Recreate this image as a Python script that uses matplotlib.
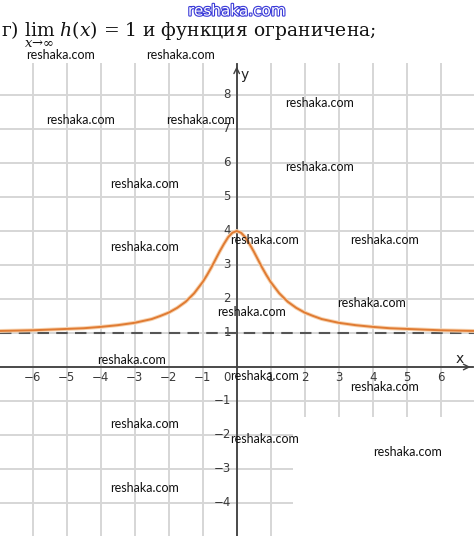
import matplotlib
matplotlib.use("Agg")
import matplotlib.pyplot as plt
from matplotlib.patches import Rectangle
import matplotlib.patheffects as pe

# ---- data ----
curve_x = [-7.0, -6.5, -6.0, -5.5, -5.0, -4.5, -4.0, -3.5, -3.0, -2.5, -2.25, -2.0,
           -1.75, -1.5, -1.25, -1.0, -0.875, -0.75, -0.625, -0.5, -0.375, -0.25, -0.125, 0.0,
           0.125, 0.25, 0.375, 0.5, 0.625, 0.75, 0.875, 1.0, 1.25, 1.5, 1.75,
           2.0, 2.25, 2.5, 3.0, 3.5, 4.0, 4.5, 5.0, 5.5, 6.0, 6.5, 7.0]
curve_y = [1.06, 1.07, 1.08, 1.10, 1.12, 1.14, 1.18, 1.23, 1.30, 1.41, 1.50, 1.60,
           1.74, 1.92, 2.17, 2.50, 2.70, 2.92, 3.16, 3.40, 3.62, 3.82, 3.95, 4.00,
           3.95, 3.82, 3.62, 3.40, 3.16, 2.92, 2.70, 2.50, 2.17, 1.92, 1.74,
           1.60, 1.50, 1.41, 1.30, 1.23, 1.18, 1.14, 1.12, 1.10, 1.08, 1.07, 1.06]
asymptote_y = 1
x_ticks = [-6, -5, -4, -3, -2, -1, 1, 2, 3, 4, 5, 6]
y_ticks = [-4, -3, -2, -1, 1, 2, 3, 4, 5, 6, 7, 8]
title_text = r"г) $\lim_{x\to\infty}\ h(x)\ =\ 1$ и функция ограничена;"
watermark = "reshaka.com"
# watermark positions in pixels (center x, center y)
wm_px = [(61, 55), (181, 55), (81, 120), (201, 120), (145, 184), (145, 247),
         (320, 103), (320, 167), (265, 240), (385, 240), (372, 303), (252, 312),
         (132, 360), (265, 376), (385, 387), (145, 424), (265, 439), (408, 452),
         (145, 488)]

W, H = 474, 536
plt.rcParams['mathtext.fontset'] = 'dejavuserif'
fig = plt.figure(figsize=(W / 100, H / 100), dpi=100)
top_pix = 63
ax = fig.add_axes([0, 0, 1, (H - top_pix) / H])
x0p, y0p, unit = 236.7, 367, 34.0
ax.set_xlim(-x0p / unit, (W - x0p) / unit)
ax.set_ylim(-(H - y0p) / unit, (y0p - top_pix) / unit)
for s in ax.spines.values():
    s.set_visible(False)
ax.set_xticks([])
ax.set_yticks([])

gcol = '#d6d6d6'
for xv in range(-7, 8):
    ax.axvline(xv, color=gcol, lw=1.4, zorder=1)
for yv in range(-5, 10):
    ax.axhline(yv, color=gcol, lw=1.4, zorder=1)
# erased region of the grid (lower right)
ax.add_patch(Rectangle((1.66, -6), 10, 6 - 1.47, facecolor='white', edgecolor='none', zorder=2))

# axes with arrows
xl = ax.get_xlim(); yl = ax.get_ylim()
ax.plot([xl[0], xl[1] - 0.02], [0, 0], color='#404040', lw=1.3, zorder=3)
ax.plot([0, 0], [yl[0], yl[1] - 0.02], color='#404040', lw=1.3, zorder=3)
ax.annotate('', xy=(xl[1] - 0.02, 0), xytext=(xl[1] - 0.3, 0),
            arrowprops=dict(arrowstyle='->', color='#404040', lw=1.0, mutation_scale=10), zorder=3)
ax.annotate('', xy=(0, yl[1] - 0.02), xytext=(0, yl[1] - 0.3),
            arrowprops=dict(arrowstyle='->', color='#404040', lw=1.0, mutation_scale=10), zorder=3)

tcol = '#3a3a3a'
for t in x_ticks:
    ax.text(t, -0.32, str(t).replace('-', '\u2212'), ha='center', va='center',
            fontsize=8.5, color=tcol, zorder=4)
ax.text(-0.28, -0.32, '0', ha='center', va='center', fontsize=8.5, color=tcol, zorder=4)
for t in y_ticks:
    ax.text(-0.17, t, str(t).replace('-', '\u2212'), ha='right', va='center',
            fontsize=8.5, color=tcol, zorder=4)
ax.text((460 - x0p) / unit, (y0p - 359) / unit, 'x', ha='center', va='center',
        fontsize=10, color='#222222', zorder=4)
ax.text((245 - x0p) / unit, (y0p - 75) / unit, 'y', ha='center', va='center',
        fontsize=10, color='#222222', zorder=4)

# asymptote and curve
ax.axhline(asymptote_y, color='#555555', lw=1.5, dashes=(5.5, 3.5), zorder=4)
ax.plot(curve_x, curve_y, color='#f7d3b0', lw=2.8, zorder=5, solid_capstyle='round')
ax.plot(curve_x, curve_y, color='#e07b33', lw=1.4, zorder=6)

# title
fig.text(1 / W, 1 - 37 / H, title_text, fontsize=13.5, family='DejaVu Serif',
         ha='left', va='baseline', color='#111111')

# watermarks
for (px, py) in wm_px:
    fig.text(px / W, 1 - py / H, watermark, fontsize=9, family='Lato',
             ha='center', va='center', color='#111111', zorder=10)
fig.text(237 / W, 1 - 11 / H, watermark, fontsize=11, family='DejaVu Sans',
         ha='center', va='center', color='white', zorder=10,
         path_effects=[pe.withStroke(linewidth=1.6, foreground='#3a3ad8')])

fig.savefig('out.png', dpi=100)
